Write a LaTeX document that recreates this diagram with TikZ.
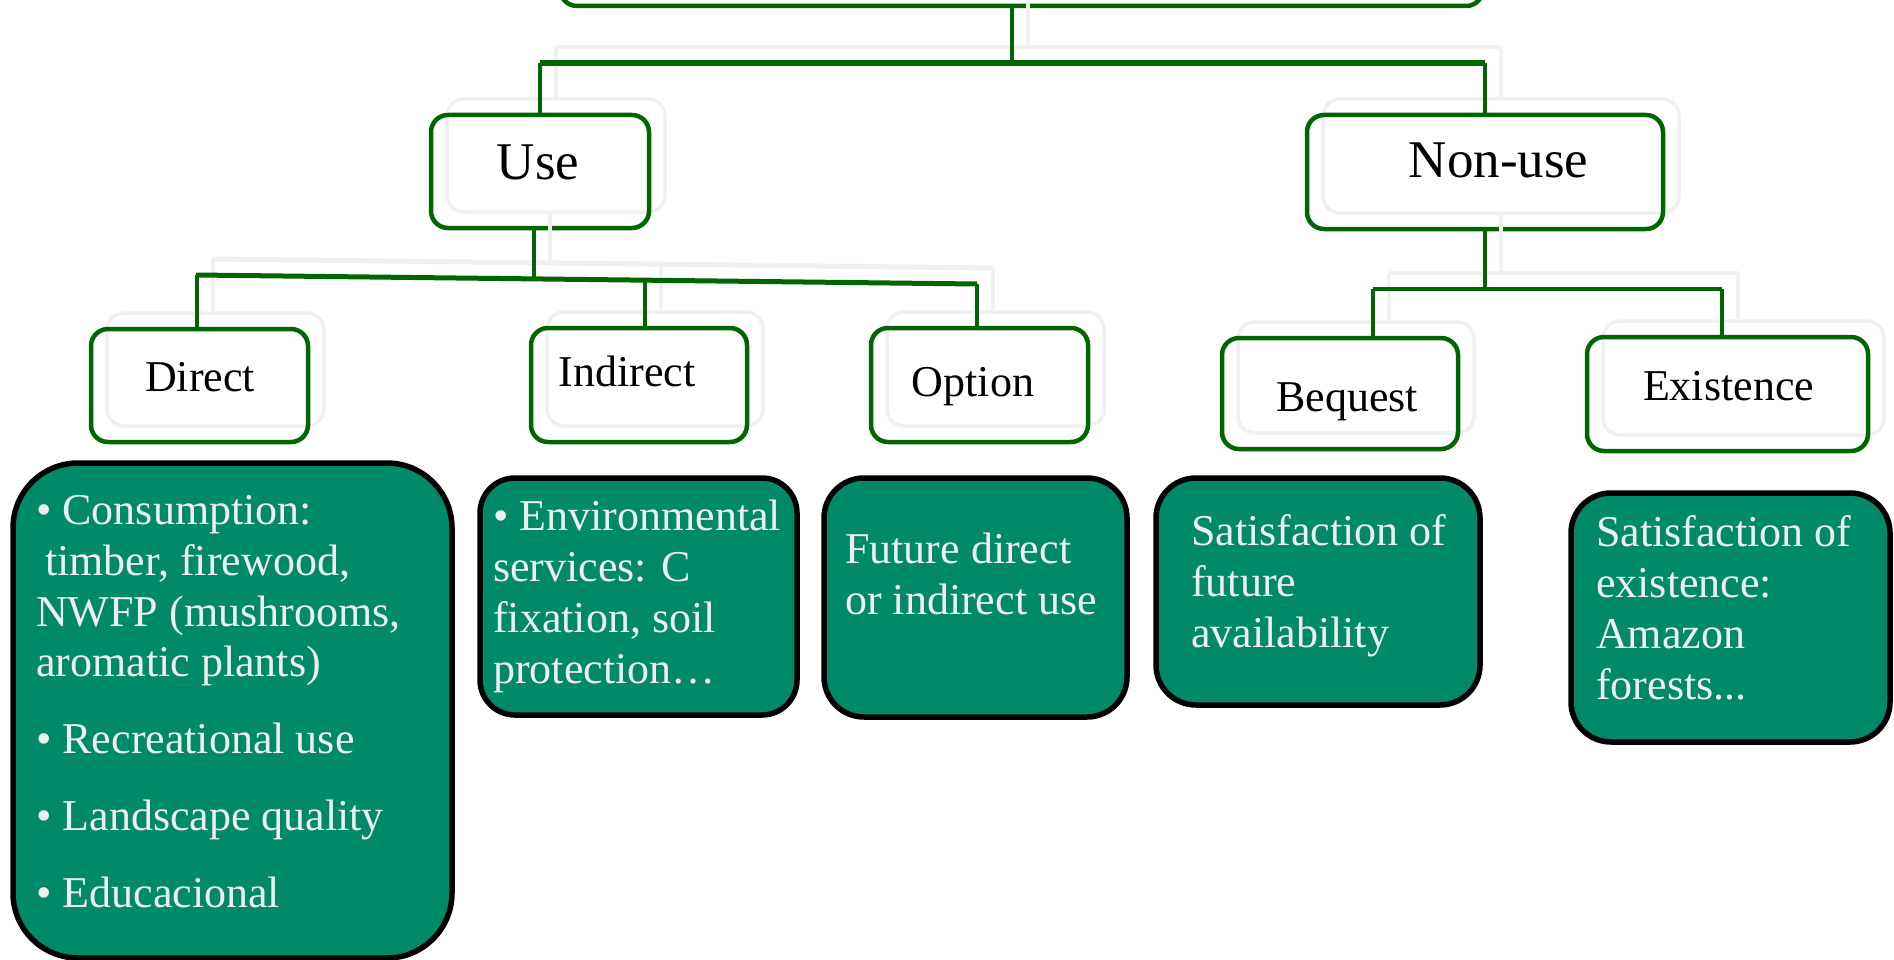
\documentclass[tikz,border=0pt]{standalone}
\usepackage{fontspec}
\setmainfont{Liberation Serif}
\definecolor{treegreen}{RGB}{0,102,0}
\definecolor{boxgreen}{RGB}{0,138,104}
\definecolor{boxtext}{RGB}{238,238,238}
\definecolor{ghostgray}{RGB}{240,240,240}
\tikzstyle{catbox}=[draw=treegreen, line width=4.5pt, rounded corners=17pt, inner sep=0pt,
  preaction={draw=ghostgray, line width=3.5pt, transform canvas={shift={(16,-16)}}}]
\tikzstyle{catlabel}=[font=\fontsize{44}{50}\selectfont, anchor=base, inner sep=0pt]
\tikzstyle{biglabel}=[font=\fontsize{53}{60}\selectfont, anchor=base, inner sep=0pt]
\tikzstyle{valuebox}=[draw=black, line width=5.5pt, fill=boxgreen, inner sep=0pt]
\tikzstyle{valuetext}=[text=boxtext, font=\fontsize{44}{50.7}\selectfont, align=left, anchor=base west, inner sep=0pt]
\tikzstyle{link}=[draw=treegreen, line width=3.5pt]
\tikzstyle{bar}=[draw=treegreen, line width=6pt]
\tikzstyle{ghostlink}=[draw=ghostgray, line width=3.5pt, transform canvas={shift={(16,-16)}}]

\begin{document}
\begin{tikzpicture}[x=1pt, y=-1pt]

  \useasboundingbox (0,0) rectangle (1894,960);

  % top box, only its lower edge is on the page
  \node[catbox, minimum width=923pt, minimum height=120pt] (root) at (1021.5,-54) {};

  % category boxes
  \foreach \name/\cx/\cy/\w/\h/\tx/\ty/\label in {use/540/171.5/218/113/538/180/Use, nonuse/1485/172/356/114/1498.5/178/Non-use}
  {
    \node[catbox, minimum width=\w pt, minimum height=\h pt] (\name) at (\cx,\cy) {};
    \node[biglabel] (\name-t) at (\tx,\ty) {\label};
  }
  \foreach \name/\cx/\cy/\w/\h/\tx/\ty/\label in {direct/199.5/385.5/217/113/200/391/Direct, indirect/639/385/216/114/627/386/Indirect,
      option/979.5/385/217/114/973/396/Option, bequest/1340/393.5/236/111/1347/411/Bequest, existence/1727.5/394/281/114/1728.5/400/Existence}
  {
    \node[catbox, minimum width=\w pt, minimum height=\h pt] (\name) at (\cx,\cy) {};
    \node[catlabel] (\name-t) at (\tx,\ty) {\label};
  }

  % junctions
  \coordinate (j0) at (1012,63);
  \coordinate (j1) at (534,279);
  \coordinate (b1l) at (196,275);
  \coordinate (b1r) at (977,284);
  \coordinate (ud) at (197,275);
  \coordinate (ui) at (645,280);
  \coordinate (uo) at (977,284);
  \coordinate (j2) at (1485,289);
  \coordinate (nb) at (1373,289);
  \coordinate (ne) at (1722,289);

  % pass 0 = light copy, pass 1 = green lines
  \foreach \pass in {0,1}
  {
    \ifnum\pass=0 \tikzset{link/.style={ghostlink}, bar/.style={ghostlink}}\fi
    \draw[link] (root.south -| j0) -- (j0);
    \draw[bar] (use.north |- j0) -- (nonuse.north |- j0);
    \foreach \dest in {use, nonuse}
      \draw[link] (\dest.north |- j0) -- (\dest.north);
    \draw[link] (use.south -| j1) -- (j1);
    \draw[bar, line width=5pt] (b1l) -- (b1r);
    \foreach \source/\dest in {ud/direct, ui/indirect, uo/option}
      \draw[link] (\source) -- (\source |- \dest.north);
    \draw[link] (nonuse.south) -- (j2);
    \draw[link, line width=4pt] (nb) -- (ne);
    \foreach \source/\dest in {nb/bequest, ne/existence}
      \draw[link] (\source) -- (\source |- \dest.north);
  }

  % value boxes
  \foreach \name/\cx/\cy/\w/\h/\r in {ddirect/232.5/710.5/439/495/65, dindirect/638.5/596.5/317/237/35,
      doption/975.5/597.5/303/239/40, dbequest/1318/591.5/324/227/40, dexist/1730.5/617.5/319/249/40}
    \node[valuebox, rounded corners=\r pt, minimum width=\w pt, minimum height=\h pt] (\name) at (\cx,\cy) {};

  % text is placed by its last line
  \node[valuetext] (ddirect-t) at (36,907) {• Consumption:\\\hspace*{9pt}timber, firewood,\\NWFP (mushrooms,\\aromatic plants)\\[26pt]
    • Recreational use\\[26pt]• Landscape quality\\[26pt]• Educacional};
  \node[valuetext] (dindirect-t) at (493,683) {• Environmental\\services: C\\fixation, soil\\protection…};
  \node[valuetext] (doption-t) at (845,614) {Future direct\\or indirect use};
  \node[valuetext] (dbequest-t) at (1191,647) {Satisfaction of\\future\\availability};
  \node[valuetext] (dexist-t) at (1596,699) {Satisfaction of\\existence:\\Amazon\\forests...};

\end{tikzpicture}
\end{document}
